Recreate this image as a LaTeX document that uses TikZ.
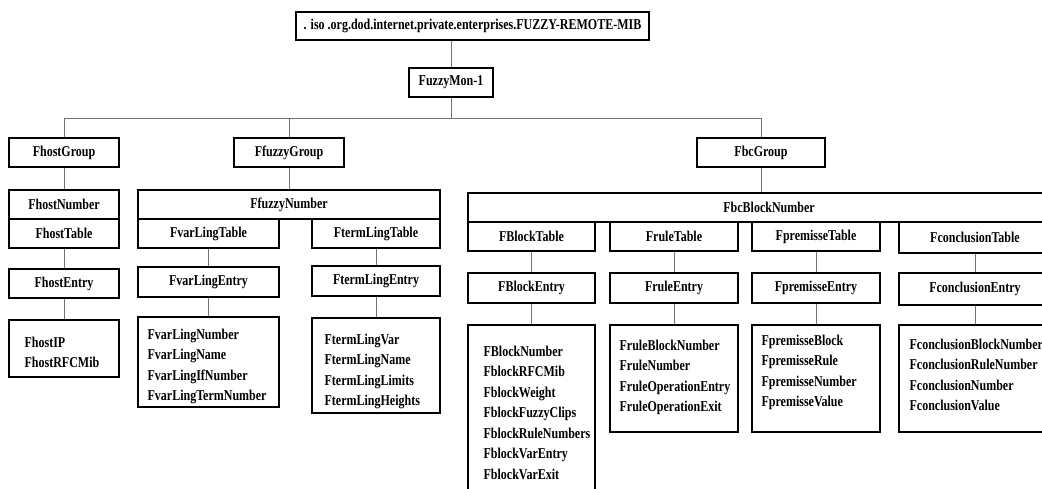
\documentclass[tikz,border=0pt]{standalone}
\usepackage{fontspec}
\newfontfamily\mibfont[FakeStretch=0.8]{Liberation Serif}
\usetikzlibrary{calc}
\tikzset{
  box/.style={draw=black, line width=1.2pt, fill=white, inner sep=0pt,
    font=\mibfont\bfseries\fontsize{15}{18}\selectfont},
  conn/.style={draw=black!55, line width=0.8pt},
  lst/.style={anchor=north west, inner sep=0pt, align=left,
    font=\mibfont\bfseries\fontsize{15}{20.5}\selectfont},
}
% \cell{name}{x1}{y1}{x2}{y2}{text}: box given by its corners
\newcommand\cell[6]{\node[box, minimum width={(#4-#2)*1pt}, minimum height={(#5-#3)*1pt}]
  (#1) at ({(#2+#4)/2},{(#3+#5)/2}) {#6};}
\begin{document}
\begin{tikzpicture}[x=1pt, y=-1pt]
\path[use as bounding box, fill=white] (0,0) rectangle (1042,489);
\begin{scope}
\clip (0,0) rectangle (1042,489);

% root of the tree
\cell{mib}{296}{12}{649}{40}{. iso .org.dod.internet.private.enterprises.FUZZY-REMOTE-MIB}
\cell{fmon}{409}{68}{493}{97}{FuzzyMon-1}
\coordinate (bus) at (451,118);

% groups
\cell{hg}{9}{138}{119}{167}{FhostGroup}
\cell{fg}{234}{138}{344}{167}{FfuzzyGroup}
\cell{bg}{697}{138}{825}{167}{FbcGroup}

% host group
\cell{hn}{9}{190}{119}{219}{FhostNumber}
\cell{ht}{9}{219}{119}{248}{FhostTable}
\cell{he}{9}{269}{119}{298}{FhostEntry}
\cell{hl}{9}{320}{119}{377}{}
\node[lst] at ($(hl.north west)+(16,17)$) {FhostIP\\FhostRFCMib};

% fuzzy group
\cell{fn}{138}{190}{440}{219}{FfuzzyNumber}
\cell{vt}{138}{219}{279}{248}{FvarLingTable}
\cell{tt}{312}{219}{440}{248}{FtermLingTable}
\cell{ve}{138}{267}{279}{297}{FvarLingEntry}
\cell{te}{312}{266}{440}{296}{FtermLingEntry}
\cell{vl}{138}{317}{279}{407}{}
\cell{tl}{312}{318}{440}{413}{}
\node[lst] at ($(vl.north west)+(10,12)$) {FvarLingNumber\\FvarLingName\\FvarLingIfNumber\\FvarLingTermNumber};
\node[lst] at ($(tl.north west)+(13,16)$) {FtermLingVar\\FtermLingName\\FtermLingLimits\\FtermLingHeights};

% block-chain group
\cell{bn}{468}{193}{1070}{222}{FbcBlockNumber}
\cell{bt}{468}{222}{595}{251}{FBlockTable}
\cell{rt}{610}{222}{738}{251}{FruleTable}
\cell{pt}{752}{222}{880}{251}{FpremisseTable}
\cell{ct}{899}{222}{1051}{253}{FconclusionTable}
\cell{be}{468}{273}{595}{303}{FBlockEntry}
\cell{re}{610}{273}{738}{303}{FruleEntry}
\cell{pe}{752}{273}{880}{303}{FpremisseEntry}
\cell{ce}{899}{273}{1051}{305}{FconclusionEntry}
\cell{bl}{468}{325}{595}{520}{}
\cell{rl}{610}{325}{738}{432}{}
\cell{pl}{752}{325}{880}{432}{}
\cell{cl}{899}{325}{1051}{432}{}
\node[lst] at ($(bl.north west)+(16,21)$) {FBlockNumber\\FblockRFCMib\\FblockWeight\\FblockFuzzyClips\\FblockRuleNumbers\\FblockVarEntry\\FblockVarExit};
\node[lst] at ($(rl.north west)+(10,15)$) {FruleBlockNumber\\FruleNumber\\FruleOperationEntry\\FruleOperationExit};
\node[lst] at ($(pl.north west)+(10,10)$) {FpremisseBlock\\FpremisseRule\\FpremisseNumber\\FpremisseValue};
\node[lst] at ($(cl.north west)+(11,14)$) {FconclusionBlockNumber\\FconclusionRuleNumber\\FconclusionNumber\\FconclusionValue};

% connectors
\draw[conn] (fmon.north) -- (fmon.north |- mib.south);
\draw[conn] (fmon.south) -- (fmon.south |- bus);
\draw[conn] (hg.north) -- (hg.north |- bus) -- (bg.north |- bus) -- (bg.north);
\draw[conn] (fg.north) -- (fg.north |- bus);
\draw[conn] (hg.south) -- (hn.north);
\draw[conn] (ht.south) -- (he.north);
\draw[conn] (he.south) -- (hl.north);
\draw[conn] (fg.south) -- (fn.north);
\draw[conn] (vt.south) -- (ve.north);
\draw[conn] (ve.south) -- (vl.north);
\draw[conn] (tt.south) -- (te.north);
\draw[conn] (te.south) -- (tl.north);
\draw[conn] (bg.south) -- (bg.south |- bn.north);
\draw[conn] (bt.south) -- (be.north);
\draw[conn] (be.south) -- (bl.north);
\draw[conn] (rt.south) -- (re.north);
\draw[conn] (re.south) -- (rl.north);
\draw[conn] (pt.south) -- (pe.north);
\draw[conn] (pe.south) -- (pl.north);
\draw[conn] (ct.south) -- (ce.north);
\draw[conn] (ce.south) -- (cl.north);
\end{scope}
\end{tikzpicture}
\end{document}
